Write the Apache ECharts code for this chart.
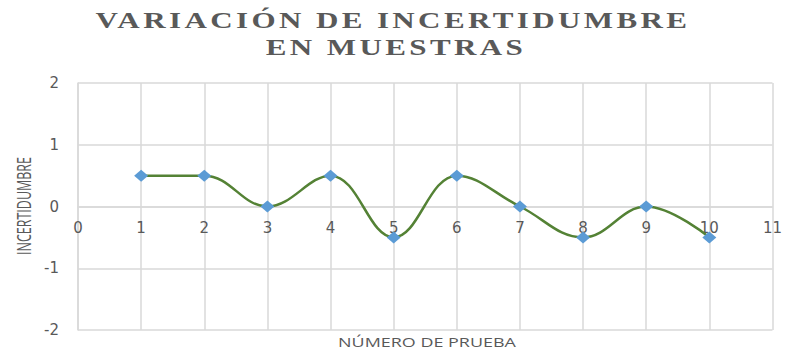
<!DOCTYPE html>
<html>
<head>
<meta charset="utf-8">
<script src="https://cdn.jsdelivr.net/npm/echarts@6/dist/echarts.min.js"></script>
<style>
  html, body { margin: 0; padding: 0; background: #fff; }
  #chart { width: 785px; height: 354px; }
  /* título con espaciado entre letras, como en el original */
  #chart text[style*="Serif"] { letter-spacing: 2.5px; }
</style>
</head>
<body>
<div id="chart"></div>
<script>
// datos
const pruebas = [1, 2, 3, 4, 5, 6, 7, 8, 9, 10]
const incertidumbre = [0.5, 0.5, 0, 0.5, -0.5, 0.5, 0, -0.5, 0, -0.5]
const tituloLineas = ['VARIACIÓN DE INCERTIDUMBRE', 'EN MUESTRAS']

const chart = echarts.init(document.getElementById('chart'), null, { renderer: 'svg' })

// textos sueltos (título y nombres de ejes), centrados en x, y
const textoGris = (text, x, y, font, extra) => Object.assign({
  type: 'text',
  x: x,
  y: y,
  style: {
    text: text,
    font: font,
    fill: '#595959',
    align: 'center',
    textAlign: 'center',
    verticalAlign: 'middle',
    textVerticalAlign: 'middle'
  }
}, extra)

const option = {
  animation: false,
  graphic: [
    textoGris(tituloLineas[0], 393, 20, 'bold 23px "Liberation Serif"', { scaleX: 1.35 }),
    textoGris(tituloLineas[1], 396, 47, 'bold 23px "Liberation Serif"', { scaleX: 1.35 }),
    textoGris('NÚMERO DE PRUEBA', 427, 342, '13px "Open Sans"', { scaleX: 1.38 }),
    textoGris('INCERTIDUMBRE', 24, 206, '12.5px "Open Sans"', {
      rotation: Math.PI / 2,
      scaleY: 1.55
    })
  ],
  grid: { left: 78, right: 10, top: 83, bottom: 24 },
  xAxis: {
    type: 'value',
    min: 0,
    max: 11,
    interval: 1,
    // el eje cruza en y = 0
    offset: -123.5,
    axisLine: { onZero: false, lineStyle: { color: '#d9d9d9', width: 1.5 } },
    axisTick: { show: false },
    axisLabel: { color: '#595959', fontSize: 15, fontFamily: 'DejaVu Sans', margin: 14 },
    splitLine: { show: true, lineStyle: { color: '#d9d9d9', width: 1.5 } }
  },
  yAxis: {
    type: 'value',
    min: -2,
    max: 2,
    interval: 1,
    axisLine: { show: true, onZero: false, lineStyle: { color: '#d9d9d9', width: 1.5 } },
    axisTick: { show: false },
    axisLabel: { color: '#595959', fontSize: 15, fontFamily: 'DejaVu Sans', margin: 19 },
    splitLine: { show: true, lineStyle: { color: '#d9d9d9', width: 1.5 } }
  },
  series: [
    {
      type: 'line',
      data: pruebas.map((x, i) => [x, incertidumbre[i]]),
      smooth: 0.4,
      symbol: 'diamond',
      symbolSize: [14, 12],
      itemStyle: { color: '#5b9bd5' },
      lineStyle: { color: '#548235', width: 2.5 },
      z: 3
    }
  ]
}

chart.setOption(option)
</script>
</body>
</html>
